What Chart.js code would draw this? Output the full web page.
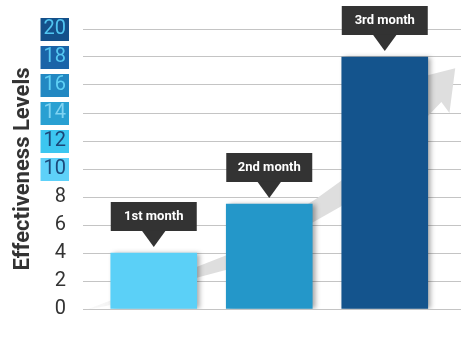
<!DOCTYPE html>
<html>
<head>
<meta charset="utf-8">
<script src="https://cdn.jsdelivr.net/npm/chart.js@4.4.0/dist/chart.umd.min.js"></script>
<style>
  html, body { margin: 0; padding: 0; background: #fff; }
  #wrap { width: 461px; height: 338px; }
</style>
</head>
<body>
<div id="wrap"><canvas id="chart"></canvas></div>
<script>
const months = ["1st month", "2nd month", "3rd month"];
const levels = [4, 7.5, 18];
const barColors = ["#5bd0f7", "#2497c9", "#14548d"];

// highlighted tick labels on the upper half of the scale
const tickValues = [10, 12, 14, 16, 18, 20];
const tickBoxColors = ["#5ed1f9", "#3cc6f0", "#29a0d2", "#2288c2", "#1a64a8", "#14508a"];
const tickTextColors = ["#1b4a7b", "#1b4677", "#7fd3f2", "#5fd0f5", "#55c8f2", "#50c4f0"];

// outline of the rising trend arrow behind the bars, as [month index, level]
const trendArrow = [
  [-0.59, -0.07], [-0.37, 0.63], [0.38, 3.03], [0.64, 3.87], [1.41, 7.89],
  [1.62, 9.15], [2.29, 15.2], [2.2, 16.34], [2.61, 17.2], [2.56, 14.0],
  [2.49, 14.79], [1.62, 7.32], [1.41, 6.34], [0.64, 2.82], [0.38, 2.25],
  [-0.37, 0.28],
];

const trendPlugin = {
  id: "trend",
  beforeDatasetsDraw(chart) {
    const { ctx, scales } = chart;
    const pts = trendArrow.map(([i, v]) => [scales.x.getPixelForValue(i), scales.y.getPixelForValue(v)]);
    const grad = ctx.createLinearGradient(pts[0][0], 0, pts[4][0], 0);
    grad.addColorStop(0, "rgba(222,222,222,0.15)");
    grad.addColorStop(0.45, "rgba(222,222,222,1)");
    grad.addColorStop(1, "rgba(222,222,222,1)");
    ctx.save();
    ctx.fillStyle = grad;
    ctx.beginPath();
    pts.forEach(([x, y], k) => (k ? ctx.lineTo(x, y) : ctx.moveTo(x, y)));
    ctx.closePath();
    ctx.fill();
    ctx.restore();
  },
};

const barShadow = {
  id: "barShadow",
  beforeDatasetDraw(chart) {
    const ctx = chart.ctx;
    ctx.save();
    ctx.shadowColor = "rgba(0,0,0,0.35)";
    ctx.shadowBlur = 5;
    ctx.shadowOffsetX = 3;
  },
  afterDatasetDraw(chart) {
    chart.ctx.restore();
  },
};

const monthLabels = {
  id: "monthLabels",
  afterDatasetsDraw(chart) {
    const ctx = chart.ctx;
    const meta = chart.getDatasetMeta(0);
    ctx.save();
    meta.data.forEach((bar, i) => {
      const bottom = bar.y - 22;
      const top = bottom - 29;
      ctx.fillStyle = "#333333";
      ctx.fillRect(bar.x - bar.width / 2, top, bar.width, 29);
      ctx.beginPath();
      ctx.moveTo(bar.x - 12, bottom - 0.5);
      ctx.lineTo(bar.x + 12, bottom - 0.5);
      ctx.lineTo(bar.x, bottom + 16);
      ctx.closePath();
      ctx.fill();
      ctx.fillStyle = "#ffffff";
      ctx.font = "bold 13px Roboto";
      ctx.textAlign = "center";
      ctx.textBaseline = "middle";
      ctx.fillText(months[i], bar.x, top + 15);
    });
    ctx.restore();
  },
};

const tickIndex = (value) => tickValues.indexOf(value);

new Chart(document.getElementById("chart"), {
  type: "bar",
  data: {
    datasets: [
      {
        data: levels.map((v, i) => ({ x: i, y: v })),
        backgroundColor: barColors,
        barThickness: 86,
      },
    ],
  },
  options: {
    responsive: true,
    maintainAspectRatio: false,
    animation: false,
    layout: { padding: { top: 28, bottom: 26, left: 0, right: 0 } },
    plugins: {
      legend: { display: false },
      tooltip: { enabled: false },
    },
    scales: {
      x: { type: "linear", min: -0.5, max: 2.66, offset: false, display: false },
      y: {
        min: 0,
        max: 20,
        ticks: {
          stepSize: 2,
          padding: 17,
          font: { family: "Roboto", size: 20 },
          color: (c) => {
            const k = tickIndex(c.tick.value);
            return k < 0 ? "#333333" : tickTextColors[k];
          },
          showLabelBackdrop: true,
          backdropColor: (c) => {
            const k = tickIndex(c.tick.value);
            return k < 0 ? "rgba(0,0,0,0)" : tickBoxColors[k];
          },
          backdropPadding: { left: 3, right: 3, top: -1, bottom: 0 },
        },
        grid: { color: "#c4c4c4", tickLength: 13, lineWidth: 1 },
        border: { display: false },
        title: {
          display: true,
          text: "Effectiveness Levels",
          color: "#333333",
          font: { family: "Roboto", size: 22, weight: "bold" },
          padding: { top: 10, bottom: 0 },
        },
        afterFit: (scale) => {
          scale.width = 96;
        },
      },
    },
  },
  plugins: [trendPlugin, barShadow, monthLabels],
});
</script>
</body>
</html>
